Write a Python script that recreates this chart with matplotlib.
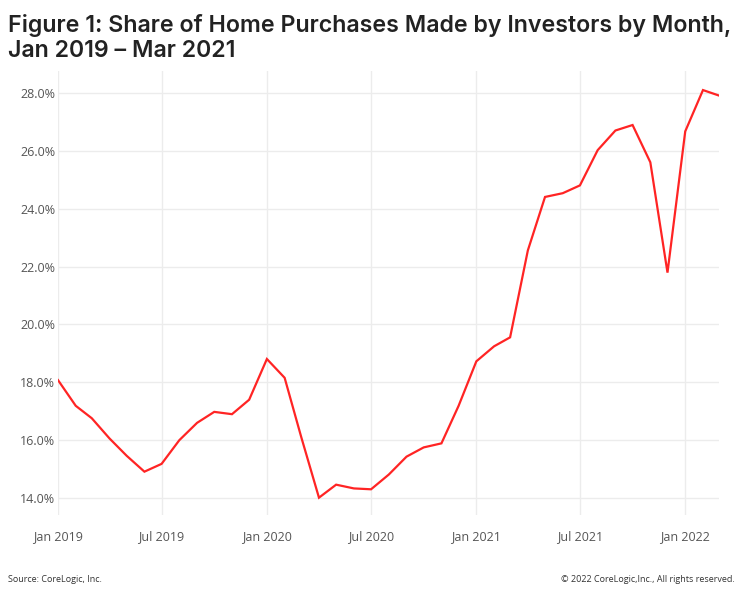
import numpy as np
import pandas as pd
import matplotlib
matplotlib.use('Agg')
import matplotlib.pyplot as plt
import matplotlib.dates as mdates
from matplotlib.ticker import FuncFormatter

# monthly share of purchases by investors, Jan 2019 - Mar 2022 (%)
months = pd.date_range('2019-01-01', '2022-03-01', freq='MS')
share = [18.07, 17.18, 16.75, 16.05, 15.45, 14.9, 15.17, 15.99, 16.59, 16.97, 16.89, 17.39,
         18.8, 18.15, 16.1, 14.0, 14.45, 14.32, 14.29, 14.8, 15.42, 15.74, 15.88, 17.18,
         18.72, 19.24, 19.55, 22.56, 24.41, 24.54, 24.81, 26.03, 26.71, 26.9, 25.61, 21.79,
         26.68, 28.11, 27.92]
yticks = [14, 16, 18, 20, 22, 24, 26, 28]
xtick_dates = pd.to_datetime(['2019-01-01', '2019-07-01', '2020-01-01', '2020-07-01',
                              '2021-01-01', '2021-07-01', '2022-01-01'])

W, H = 740, 596
fig = plt.figure(figsize=(W/100., H/100.), dpi=100)
ax = fig.add_axes([58./W, 1-515./H, (719.-58.)/W, (515.-71.)/H])

ax.plot(months, share, color='#ff2424', lw=1.6, solid_joinstyle='miter')

ax.set_xlim(months[0], months[-1])
ax.set_ylim(13.4, 28.77)
ax.set_yticks(yticks)
ax.yaxis.set_major_formatter(FuncFormatter(lambda v, p: '%.1f%%' % v))
ax.set_xticks(xtick_dates)
ax.xaxis.set_major_formatter(mdates.DateFormatter('%b %Y'))

ax.grid(True, color='#ececec', lw=1)
ax.set_axisbelow(True)
for s in ax.spines.values():
    s.set_visible(False)
ax.tick_params(length=0, labelsize=9, labelcolor='#555555', colors='#555555')
ax.tick_params(axis='x', pad=11)
ax.tick_params(axis='y', pad=2)
for lab in ax.get_xticklabels() + ax.get_yticklabels():
    lab.set_family('Open Sans')

fig.text(8./W, 1-57./H, 'Figure 1: Share of Home Purchases Made by Investors by Month,\nJan 2019 \u2013 Mar 2021',
         ha='left', va='baseline', fontsize=16.7, family='Inter', weight='semibold', color='#222222',
         linespacing=1.2, multialignment='left')
fig.text(8./W, 1-579./H, 'Source: CoreLogic, Inc.', ha='left', va='center', fontsize=6.5,
         family='Open Sans', color='#333333')
fig.text(735./W, 1-579./H, '\u00a9 2022 CoreLogic,Inc., All rights reserved.', ha='right', va='center',
         fontsize=6.5, family='Open Sans', color='#333333')

fig.savefig('out.png', dpi=100)
